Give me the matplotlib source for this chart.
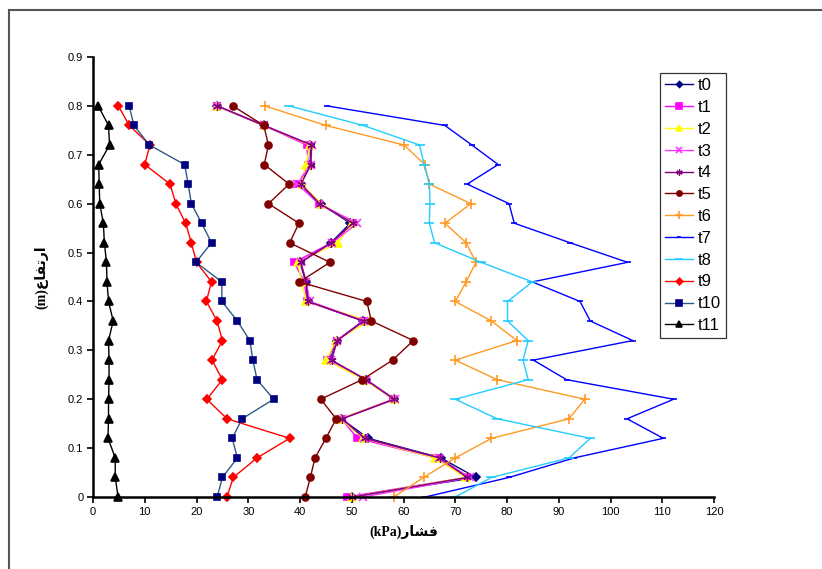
import numpy as np
import matplotlib
matplotlib.use('Agg')
import matplotlib.pyplot as plt
from matplotlib.patches import Rectangle

# heights (m), from bottom to top
heights = [0.0, 0.04, 0.08, 0.12, 0.16, 0.2, 0.24, 0.28, 0.32, 0.36, 0.4,
           0.44, 0.48, 0.52, 0.56, 0.6, 0.64, 0.68, 0.72, 0.76, 0.8]

t0 = [50, 74, 67.2, 53.2, 48, 58.2, 52.8, 45.8, 47.1, 52.2, 41.5,
      41.1, 40, 46, 49.7, 44, 40.1, 42, 42, 33, 24]
t1 = [49, 72.2, 66.2, 51.1, 48, 58, 52.6, 45.2, 47.1, 52.2, 41.4,
      40.8, 38.9, 46.1, 50.3, 43.6, 39.7, 41.6, 41.3, 33, 24]
t2 = [50, 72, 66, 52.2, 47.8, 58.1, 52.4, 45.1, 46.9, 53.4, 41.2,
      40.3, 39.6, 47.3, 50.1, 44.1, 40.3, 41.2, 41.9, 33, 24]
t3 = [52.2, 72.8, 66.8, 52.4, 48.2, 58.3, 52.8, 46, 47.2, 52.4, 41.9,
      41.2, 40.2, 46.2, 51.1, 43.6, 39.5, 42.1, 42.3, 33.1, 24]
t4 = [50.1, 72.3, 67, 52.5, 48.1, 58.2, 52.7, 46.1, 47.2, 52.3, 41.5,
      41.2, 40.1, 46, 50.2, 43.8, 40.2, 42.1, 42.2, 33, 24]
t5 = [41, 42, 42.9, 45, 47, 44, 52, 57.9, 61.9, 53.8, 52.9,
      39.9, 45.8, 38, 39.8, 33.9, 37.9, 33.1, 33.9, 33, 27]
t6 = [58.1, 63.9, 70, 77, 92, 95, 78.1, 70, 81.9, 77, 70,
      72.1, 74, 72.1, 68, 73, 65, 64.1, 60.1, 45, 33.2]
t7 = [64.2, 80.4, 93, 110.2, 103.2, 112.2, 91.5, 85.1, 104.3, 96.1, 94.1,
      84.9, 103.3, 92.2, 81.4, 80.4, 72.3, 78.3, 73.2, 68, 45.2]
t8 = [70, 77, 92, 96.1, 78.1, 70, 84.1, 83.1, 84.1, 80.1, 80.1,
      84.9, 75, 66, 65, 65.1, 65, 64, 63.1, 52.2, 37.9]
t9 = [25.9, 27.1, 31.7, 38, 25.9, 22, 25, 23, 25, 24, 21.9,
      22.9, 20, 19, 17.9, 16, 14.9, 10, 11, 7, 4.9]
t10 = [24, 25, 27.9, 26.9, 28.8, 34.9, 31.7, 30.9, 30.3, 27.9, 24.9,
       24.9, 19.9, 22.9, 21, 19, 18.4, 17.7, 10.9, 7.9, 7]
t11 = [4.85, 4.3, 4.3, 2.9, 3.0, 3.0, 3.1, 3.1, 3.0, 3.9, 3.0,
       2.7, 2.6, 2.2, 2.0, 1.3, 1.2, 1.1, 3.2, 3.0, 1.0]

names = ['t0', 't1', 't2', 't3', 't4', 't5', 't6', 't7', 't8', 't9', 't10', 't11']
series = [t0, t1, t2, t3, t4, t5, t6, t7, t8, t9, t10, t11]

# (line colour, marker, marker face, marker edge, marker size, edge width)
styles = [
    ('#000080', 'D', '#000080', '#000080', 4, 1.2),
    ('#FF00FF', 's', '#FF00FF', '#FF00FF', 5, 1.2),
    ('#FFFF00', '^', '#FFFF00', '#FFFF00', 5.5, 1.2),
    ('#FF33FF', 'x', 'none', '#FF33FF', 5.5, 1.2),
    ('#800080', (6, 2, 0), 'none', '#800080', 6, 0.9),
    ('#800000', 'o', '#800000', '#800000', 5, 1.2),
    ('#FF9922', '+', 'none', '#FF9922', 7, 1.2),
    ('#0000FF', '_', 'none', '#0000FF', 4, 1.2),
    ('#22CCFF', '_', 'none', '#22CCFF', 7, 1.2),
    ('#FF0000', 'D', '#FF0000', '#FF0000', 4.5, 1.2),
    ('#2F5A85', 's', '#000080', '#000080', 5, 1.2),
    ('#000000', '^', '#000000', '#000000', 5.5, 1.2),
]

fig = plt.figure(figsize=(8.22, 5.69), dpi=100)
fig.patches.append(Rectangle((8.5 / 822, -0.1), 1.2, 1.1 - 10.5 / 569,
                             transform=fig.transFigure, fill=False,
                             edgecolor='#555555', linewidth=1.5))
ax = fig.add_axes([93 / 822, 1 - 497 / 569, 621 / 822, 440 / 569])

for name, vals, (lc, mk, mf, me, ms, mew) in zip(names, series, styles):
    ax.plot(vals, heights, color=lc, linewidth=1.0, marker=mk,
            markerfacecolor=mf, markeredgecolor=me, markersize=ms,
            markeredgewidth=mew, label=name, clip_on=False)

ax.set_xlim(0, 120)
ax.set_ylim(0, 0.9)
ax.set_xticks(np.arange(0, 121, 10))
ax.set_yticks(np.round(np.arange(0, 0.91, 0.1), 1))
ax.set_yticklabels(['0', '0.1', '0.2', '0.3', '0.4', '0.5', '0.6', '0.7', '0.8', '0.9'])
for s in ['top', 'right']:
    ax.spines[s].set_visible(False)
for s in ['left', 'bottom']:
    ax.spines[s].set_linewidth(1.8)
ax.tick_params(direction='out', length=4, width=1.2, labelsize=8, pad=3)
for lab in ax.get_xticklabels() + ax.get_yticklabels():
    lab.set_family('Liberation Sans')

# Arabic labels written in visual order with presentation forms
ax.set_xlabel('(kPa)\uFEAD\uFE8E\uFEB8\uFED3', family=['Liberation Serif', 'DejaVu Sans'],
              fontweight='bold', fontsize=10, labelpad=6)
ax.set_ylabel('(m)\uFEC9\uFE8E\uFED4\uFE97\uFEAD\uFE8D', family=['Liberation Serif', 'DejaVu Sans'],
              fontweight='bold', fontsize=10, labelpad=14)

leg = fig.legend(loc='upper left', bbox_to_anchor=(660 / 822, 1 - 73 / 569),
                 borderaxespad=0, frameon=True, fancybox=False, shadow=False,
                 handlelength=1.7, labelspacing=0.41, borderpad=0.3,
                 handletextpad=0.25, markerscale=0.75,
                 prop={'family': 'Liberation Sans', 'size': 12})
leg.get_frame().set_edgecolor('#000000')
leg.get_frame().set_linewidth(0.9)

fig.savefig('out.png', dpi=100)
